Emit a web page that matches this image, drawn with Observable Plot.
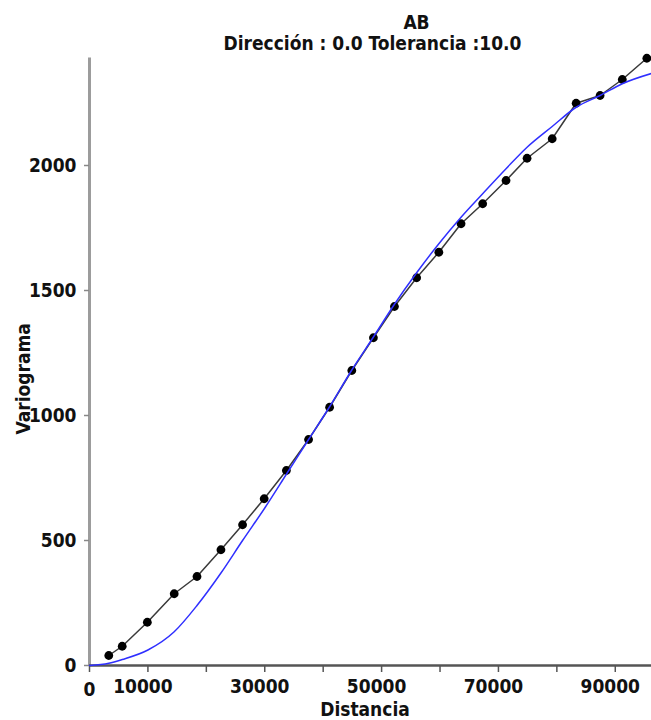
<!DOCTYPE html>
<html>
<head>
<meta charset="utf-8">
<script src="https://cdn.jsdelivr.net/npm/d3@7"></script>
<script src="https://cdn.jsdelivr.net/npm/@observablehq/plot@0.6"></script>
<style>
  html, body { margin: 0; padding: 0; background: #fff; }
</style>
</head>
<body>
<div id="chart"></div>
<script>
// Experimental semivariogram: lag distance and semivariance
const lagDistance = [3300, 5600, 9900, 14500, 18400, 22500, 26200, 29900, 33700, 37500,
  41100, 44900, 48600, 52200, 56000, 59800, 63600, 67300, 71300, 74900,
  79200, 83300, 87400, 91200, 95400];
const semivariance = [40, 77, 173, 287, 356, 463, 563, 667, 780, 904,
  1033, 1180, 1311, 1436, 1551, 1653, 1767, 1847, 1940, 2029,
  2107, 2249, 2280, 2344, 2429];

// Fitted model curve
const modelDistance = [0, 3300, 5600, 10000, 14500, 18400, 22500, 26200, 30000, 33700,
  37500, 41100, 44900, 48600, 52200, 56000, 59800, 63600, 67300, 71300,
  74900, 79200, 83300, 87400, 91200, 96200];
const modelGamma = [0, 9, 24, 62, 135, 240, 370, 500, 630, 765,
  904, 1035, 1182, 1314, 1445, 1571, 1687, 1793, 1887, 1987,
  2073, 2156, 2233, 2280, 2327, 2368];

// Axis ticks
const xTickValues = [0, 10000, 20000, 30000, 40000, 50000, 60000, 70000, 80000, 90000];
const xOriginLabel = [0];
const xTickLabels = [10000, 30000, 50000, 70000, 90000];
const yTickValues = [0, 500, 1000, 1500, 2000];

const titleText = "AB";
const subtitleText = "Dirección : 0.0 Tolerancia :10.0";
const xLabel = "Distancia";
const yLabel = "Variograma";

const experimental = lagDistance.map((d, i) => ({distance: d, gamma: semivariance[i]}));
const model = modelDistance.map((d, i) => ({distance: d, gamma: modelGamma[i]}));

const ink = "#111";
const plain = d => `${d}`;

const chart = Plot.plot({
  width: 651,
  height: 720,
  marginLeft: 89,
  marginRight: 0,
  marginTop: 57.5,
  marginBottom: 55,
  style: {
    fontFamily: '"DejaVu Sans Condensed", "DejaVu Sans", sans-serif',
    fontStretch: "condensed",
    fontWeight: "bold",
    fontSize: "19px",
    color: ink,
    background: "#fff"
  },
  x: {domain: [0, 96200]},
  y: {domain: [0, 2430]},
  marks: [
    // axis lines
    Plot.ruleX([0], {stroke: "#9c9c9c", strokeWidth: 3}),
    Plot.ruleY([0], {stroke: "#555", strokeWidth: 2.5}),
    // x ticks (every 10000) and labels (every other one)
    Plot.axisX(xTickValues, {tickSize: 7, stroke: "#555", strokeWidth: 1.5, tickFormat: () => "", label: null}),
    Plot.axisX(xOriginLabel, {tickSize: 0, tickPadding: 17, tickFormat: plain, label: null, fill: ink}),
    Plot.axisX(xTickLabels, {tickSize: 0, tickPadding: 14, dx: -5, tickFormat: plain, label: null, fill: ink}),
    // y ticks
    Plot.axisY(yTickValues, {tickSize: 5, tickPadding: 8, stroke: "#888", strokeWidth: 1.5, tickFormat: plain, label: null, fill: ink}),
    // experimental variogram
    Plot.line(experimental, {x: "distance", y: "gamma", stroke: "#3a3a3a", strokeWidth: 1.5}),
    Plot.dot(experimental, {x: "distance", y: "gamma", r: 4.4, fill: "#000", stroke: "none"}),
    // model
    Plot.line(model, {x: "distance", y: "gamma", stroke: "#2f2fff", strokeWidth: 1.5, curve: "monotone-x"}),
    // titles
    Plot.text([titleText], {text: d => d, frameAnchor: "top-left", dx: 327, dy: -29.5, lineAnchor: "bottom", textAnchor: "middle", fill: ink}),
    Plot.text([subtitleText], {text: d => d, frameAnchor: "top-left", dx: 283, dy: -8.5, lineAnchor: "bottom", textAnchor: "middle", fill: ink}),
    // axis titles
    Plot.text([xLabel], {text: d => d, frameAnchor: "bottom", dx: -5.5, dy: 50, lineAnchor: "bottom", textAnchor: "middle", fill: ink}),
    Plot.text([yLabel], {text: d => d, frameAnchor: "left", dx: -66, dy: 17, rotate: -90, lineAnchor: "middle", textAnchor: "middle", fill: ink})
  ]
});

document.getElementById("chart").appendChild(chart);
</script>
</body>
</html>
